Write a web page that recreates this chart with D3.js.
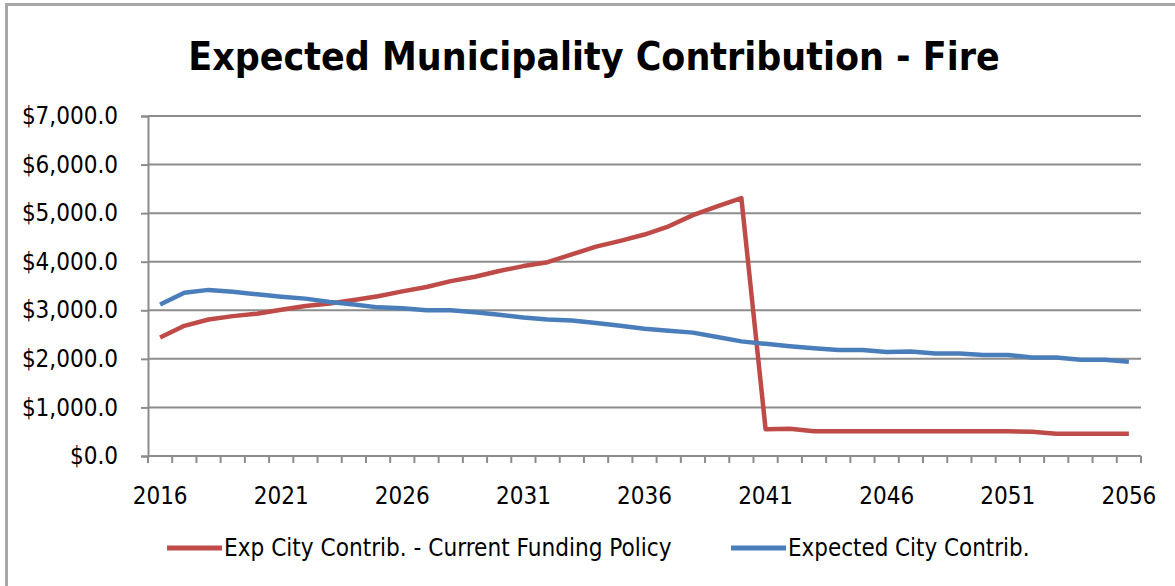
<!DOCTYPE html>
<html>
<head>
<meta charset="utf-8">
<script src="https://cdn.jsdelivr.net/npm/d3@7"></script>
<style>
  body { margin: 0; background: #fff; }
  svg { display: block; }
  text { font-family: "DejaVu Sans Condensed", "Open Sans", sans-serif; fill: #000; }
</style>
</head>
<body>
<div id="chart"></div>
<script>
// Data
var years = d3.range(2016, 2057)
var currentPolicy = [2440, 2680, 2810, 2880, 2930, 3010, 3090, 3140, 3210, 3290,
  3390, 3480, 3600, 3690, 3810, 3910, 3990, 4150, 4310, 4430,
  4560, 4730, 4960, 5140, 5310, 550, 560, 510, 510, 510,
  510, 510, 510, 510, 510, 510, 500, 460, 460, 460, 460]
var expected = [3120, 3360, 3420, 3380, 3330, 3280, 3240, 3170, 3120, 3060,
  3040, 3000, 3000, 2960, 2910, 2850, 2810, 2790, 2740, 2680,
  2620, 2580, 2540, 2450, 2360, 2310, 2260, 2220, 2180, 2180,
  2140, 2150, 2110, 2110, 2080, 2080, 2030, 2030, 1980, 1980, 1940]
var yTicks = [0, 1000, 2000, 3000, 4000, 5000, 6000, 7000]
var xLabels = [2016, 2021, 2026, 2031, 2036, 2041, 2046, 2051, 2056]
var seriesNames = ['Exp City Contrib. - Current Funding Policy', 'Expected City Contrib.']
var seriesColors = ['#BE4B48', '#4A7EBB']

// Dimensions
var width = 1175
var height = 586
var margin = { top: 116, right: 34, bottom: 130, left: 148 }
var chartWidth = width - margin.left - margin.right
var chartHeight = height - margin.top - margin.bottom

// font size that makes a text span the wanted width
function fitSize(node, target) {
  var size = parseFloat(d3.select(node).style('font-size'))
  return size * target / node.getComputedTextLength()
}
function fitWidth(sel, target) {
  sel.each(function () {
    d3.select(this).style('font-size', fitSize(this, target).toFixed(1) + 'px')
  })
}

var svg = d3.select('#chart').append('svg')
  .attr('width', width)
  .attr('height', height)

// Outer frame (top and left edges only visible)
svg.append('path')
  .attr('d', 'M6.5,' + height + 'V4.5H' + width)
  .attr('fill', 'none')
  .attr('stroke', '#a6a6a6')
  .attr('stroke-width', 3)

svg.append('text')
  .attr('x', 594)
  .attr('y', 70)
  .attr('text-anchor', 'middle')
  .style('font-size', '40px')
  .style('font-weight', 'bold')
  .text('Expected Municipality Contribution - Fire')
  .call(fitWidth, 812)

var g = svg.append('g')
  .attr('transform', 'translate(' + margin.left + ',' + margin.top + ')')

// Scales
var x = d3.scaleBand().domain(years).range([0, chartWidth])
var y = d3.scaleLinear().domain([0, 7000]).range([chartHeight, 0])

// Gridlines
g.selectAll('.grid')
  .data(yTicks.slice(1))
  .enter().append('line')
  .attr('class', 'grid')
  .attr('x1', 0)
  .attr('x2', chartWidth)
  .attr('y1', function (d) { return y(d) })
  .attr('y2', function (d) { return y(d) })
  .attr('stroke', '#8c8c8c')
  .attr('stroke-width', 2)

// Y axis
var yAxis = g.append('g')
  .call(d3.axisLeft(y).tickValues(yTicks).tickSize(7).tickPadding(23)
    .tickFormat(function (d) { return '$' + d3.format(',.1f')(d) }))
var yLabels = yAxis.selectAll('text').style('font-size', '20px')
var ySize = fitSize(yLabels.filter(function (d) { return d === 7000 }).node(), 96)
yLabels.style('font-size', ySize.toFixed(1) + 'px')
yAxis.select('.domain').attr('stroke', '#8c8c8c').attr('stroke-width', 2)
yAxis.selectAll('.tick line').attr('stroke', '#8c8c8c').attr('stroke-width', 2)

// X axis: ticks between categories, labels every fifth year
var xAxis = g.append('g')
  .attr('transform', 'translate(0,' + chartHeight + ')')
xAxis.append('line')
  .attr('x1', 0).attr('x2', chartWidth)
xAxis.selectAll('.tick')
  .data(years.concat([2057]))
  .enter().append('line')
  .attr('class', 'tick')
  .attr('x1', function (d) { return d === 2057 ? chartWidth : x(d) })
  .attr('x2', function (d) { return d === 2057 ? chartWidth : x(d) })
  .attr('y1', 0).attr('y2', 7)
xAxis.selectAll('line')
  .attr('stroke', '#8c8c8c')
  .attr('stroke-width', 2)
xAxis.selectAll('text')
  .data(xLabels)
  .enter().append('text')
  .attr('x', function (d) { return x(d) + x.bandwidth() / 2 })
  .attr('y', 48)
  .attr('text-anchor', 'middle')
  .style('font-size', '24px')
  .text(function (d) { return d })

// Lines
var line = d3.line()
  .x(function (d, i) { return x(years[i]) + x.bandwidth() / 2 })
  .y(function (d) { return y(d) })

g.selectAll('.series')
  .data([currentPolicy, expected])
  .enter().append('path')
  .attr('class', 'series')
  .attr('fill', 'none')
  .attr('stroke', function (d, i) { return seriesColors[i] })
  .attr('stroke-width', 4.5)
  .attr('stroke-linejoin', 'round')
  .attr('d', line)

// Legend
var legendX = [167, 731]
var legendW = [447, 242]
var legend = svg.selectAll('.legend')
  .data(seriesNames)
  .enter().append('g')
  .attr('class', 'legend')
  .attr('transform', function (d, i) { return 'translate(' + legendX[i] + ',548)' })
legend.append('line')
  .attr('x1', 0).attr('x2', 55)
  .attr('stroke', function (d, i) { return seriesColors[i] })
  .attr('stroke-width', 5)
legend.append('text')
  .attr('x', 57)
  .attr('y', 8)
  .style('font-size', '22px')
  .text(function (d) { return d })
  .each(function (d, i) { d3.select(this).call(fitWidth, legendW[i]) })
</script>
</body>
</html>
